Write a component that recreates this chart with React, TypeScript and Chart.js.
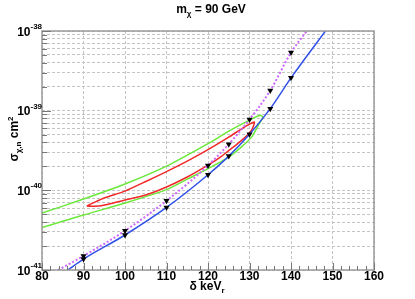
import React, { useEffect, useRef } from "react";
import { Chart, registerables } from "chart.js";
Chart.register(...registerables);

const FONT = '"Liberation Sans", Arial, Helvetica, sans-serif';

// x axis
const xTickLabels = [80, 90, 100, 110, 120, 130, 140, 150, 160];
const yDecades = [-38, -39, -40, -41];

// blue solid line (with markers)
const blueX = [86.2, 90, 100, 110, 120, 125, 130, 135, 140, 148.3];
const blueY = [1e-41, 1.37e-41, 2.75e-41, 6.1e-41, 1.57e-40, 2.69e-40, 5.07e-40, 1.06e-39, 2.58e-39, 1e-38];
// violet dotted line (with markers)
const pinkX = [83.9, 90, 100, 110, 120, 125, 130, 135, 140, 143.8];
const pinkY = [1e-41, 1.5e-41, 3.11e-41, 7.4e-41, 2.05e-40, 3.8e-40, 7.75e-40, 1.79e-39, 5.36e-39, 1e-38];

// green contour (upper edge left->right, then lower edge right->left)
const greenX = [80, 90, 100, 110, 120, 125, 130, 132.5, 133.2, 132, 130.5, 128, 125, 120, 115, 110, 100, 90, 80];
const greenY = [5.19e-41, 7.77e-41, 1.2e-40, 2.01e-40, 3.85e-40, 5.53e-40, 7.6e-40, 8.77e-40, 8.28e-40, 6.39e-40, 4.65e-40, 3.48e-40, 2.61e-40, 1.87e-40, 1.38e-40, 1.02e-40, 6.92e-41, 4.89e-41, 3.41e-41];

// red contour (closed)
const redX = [90.8, 92.5, 95, 100, 105, 110, 115, 120, 125, 128, 130, 131.2, 130.5, 129, 127, 125, 123, 120, 115, 110, 105, 100, 96, 93, 90.8];
const redY = [6.35e-41, 7.0e-41, 8.0e-41, 9.78e-41, 1.29e-40, 1.72e-40, 2.33e-40, 3.24e-40, 4.65e-40, 5.86e-40, 6.77e-40, 7.17e-40, 5.69e-40, 4.65e-40, 3.8e-40, 3.15e-40, 2.61e-40, 2.07e-40, 1.47e-40, 1.1e-40, 8.72e-41, 7.54e-41, 6.7e-41, 6.3e-41, 6.35e-41];

type Part = { t: string; size: number; dy: number };

function drawParts(ctx: CanvasRenderingContext2D, parts: Part[], x: number, y: number, align: "center" | "left" | "right") {
  ctx.textAlign = "left";
  ctx.textBaseline = "alphabetic";
  const widths = parts.map((p) => {
    ctx.font = `bold ${p.size}px ${FONT}`;
    return ctx.measureText(p.t).width;
  });
  const w = widths.reduce((a, b) => a + b, 0);
  let cx = align === "center" ? x - w / 2 : align === "right" ? x - w : x;
  parts.forEach((p, i) => {
    ctx.font = `bold ${p.size}px ${FONT}`;
    ctx.fillText(p.t, cx, y + p.dy);
    cx += widths[i];
  });
}

const pts = (xs: number[], ys: number[]) => xs.map((x, i) => ({ x, y: ys[i] }));

export default function App() {
  const ref = useRef<HTMLCanvasElement>(null);
  useEffect(() => {
    document.body.style.margin = "0";
    const deco = {
      id: "deco",
      afterDraw(chart: any) {
        const { ctx, chartArea, scales } = chart;
        const { left, right, top, bottom } = chartArea;
        const xs = scales.x;
        const ys = scales.y;
        ctx.save();
        // frame
        ctx.strokeStyle = "#9a9a9a";
        ctx.lineWidth = 1.5;
        ctx.strokeRect(left, top, right - left, bottom - top);
        // ticks
        ctx.strokeStyle = "#777";
        ctx.lineWidth = 1;
        ctx.beginPath();
        for (let v = 80; v <= 160; v += 2) {
          const px = Math.round(xs.getPixelForValue(v)) + 0.5;
          const len = v % 10 === 0 ? 7 : 4;
          ctx.moveTo(px, bottom);
          ctx.lineTo(px, bottom - len);
        }
        for (let e = -41; e <= -38; e++) {
          for (let m = 1; m <= 9; m++) {
            if (e === -38 && m > 1) break;
            const py = Math.round(ys.getPixelForValue(m * Math.pow(10, e))) + 0.5;
            const len = m === 1 ? 9 : 5;
            ctx.moveTo(left, py);
            ctx.lineTo(left + len, py);
          }
        }
        ctx.stroke();
        ctx.fillStyle = "#000";
        // x labels
        ctx.font = `bold 12px ${FONT}`;
        ctx.textAlign = "center";
        ctx.textBaseline = "alphabetic";
        xTickLabels.forEach((v) => {
          ctx.fillText(String(v), xs.getPixelForValue(v), 280);
        });
        // y labels
        yDecades.forEach((e) => {
          const py = ys.getPixelForValue(Math.pow(10, e));
          ctx.font = `bold 12px ${FONT}`;
          ctx.textAlign = "right";
          ctx.fillText("10", 30.5, py + 4.5);
          ctx.font = `bold 8px ${FONT}`;
          ctx.textAlign = "left";
          ctx.fillText(String(e), 30.5, py - 2);
        });
        // title
        drawParts(ctx, [
          { t: "m", size: 12, dy: 0 },
          { t: "\u03c7", size: 8, dy: 3 },
          { t: " = 90 GeV", size: 12, dy: 0 },
        ], 211, 13, "center");
        // x title
        drawParts(ctx, [
          { t: "\u03b4 keV", size: 12, dy: 0 },
          { t: "r", size: 8, dy: 3 },
        ], 207, 290, "center");
        // y title
        ctx.translate(18, 139);
        ctx.rotate(-Math.PI / 2);
        drawParts(ctx, [
          { t: "\u03c3", size: 12, dy: 0 },
          { t: "\u03c7,n", size: 8, dy: 3 },
          { t: " cm", size: 12, dy: 0 },
          { t: "2", size: 8, dy: -5 },
        ], 0, 0, "center");
        ctx.restore();
      },
    };

    const markerRadius = (n: number) => (c: any) => (c.dataIndex === 0 || c.dataIndex === n - 1 ? 0 : 3.5);

    const chart = new Chart(ref.current as HTMLCanvasElement, {
      type: "line",
      data: {
        datasets: [
          {
            data: pts(blueX, blueY),
            borderColor: "#3050e8",
            borderWidth: 1.5,
            cubicInterpolationMode: "monotone",
            pointStyle: "triangle",
            rotation: 180,
            pointRadius: markerRadius(blueX.length),
            pointBackgroundColor: "#000",
            pointBorderColor: "#000",
            pointBorderWidth: 0,
            order: 1,
          } as any,
          {
            data: pts(pinkX, pinkY),
            borderColor: "#cc66ff",
            borderWidth: 2,
            borderDash: [2, 2],
            cubicInterpolationMode: "monotone",
            pointStyle: "triangle",
            rotation: 180,
            pointRadius: markerRadius(pinkX.length),
            pointBackgroundColor: "#000",
            pointBorderColor: "#000",
            pointBorderWidth: 0,
            order: 2,
          } as any,
          {
            data: pts(redX, redY),
            borderColor: "#f02828",
            borderWidth: 1.5,
            tension: 0.2,
            pointRadius: 0,
            order: 3,
          } as any,
          {
            data: pts(greenX, greenY),
            borderColor: "#6be83a",
            borderWidth: 1.5,
            tension: 0.25,
            pointRadius: 0,
            order: 4,
          } as any,
        ],
      },
      options: {
        responsive: false,
        animation: false,
        events: [],
        layout: { padding: { top: 31, right: 41, left: 0, bottom: 0 } },
        plugins: { legend: { display: false }, tooltip: { enabled: false }, title: { display: false } },
        scales: {
          x: {
            type: "linear",
            min: 80,
            max: 160,
            afterFit(s: any) {
              s.height = 29;
            },
            afterBuildTicks(s: any) {
              s.ticks = xTickLabels.map((v) => ({ value: v }));
            },
            ticks: { display: false },
            grid: { color: "#c4c4c4", lineWidth: 1, drawTicks: false },
            border: { display: false, dash: [3, 2] },
          },
          y: {
            type: "logarithmic",
            min: 1e-41,
            max: 1e-38,
            afterFit(s: any) {
              s.width = 42;
            },
            afterBuildTicks(s: any) {
              const t = [];
              for (let e = -41; e <= -38; e++) {
                for (let m = 1; m <= 9; m++) {
                  if (e === -38 && m > 1) break;
                  t.push({ value: m * Math.pow(10, e) });
                }
              }
              s.ticks = t;
            },
            ticks: { display: false },
            grid: { color: "#c4c4c4", lineWidth: 1, drawTicks: false },
            border: { display: false, dash: [3, 2] },
          },
        } as any,
      },
      plugins: [deco],
    });
    return () => chart.destroy();
  }, []);
  return <canvas ref={ref} width={415} height={299} style={{ display: "block" }} />;
}
